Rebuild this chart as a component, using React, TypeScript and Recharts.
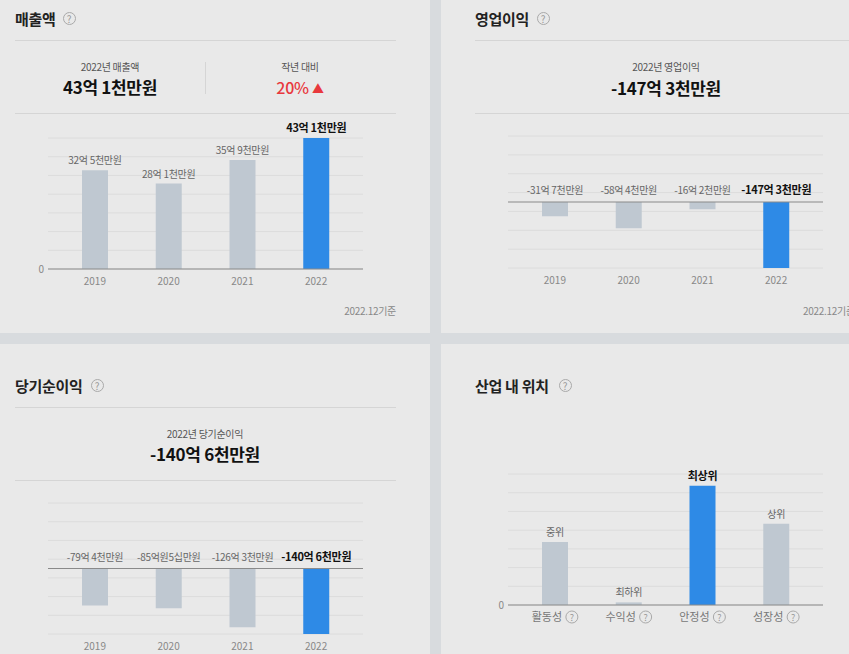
import React from "react"
import { Bar, BarChart, XAxis, YAxis, CartesianGrid, Cell, LabelList, ReferenceLine } from "recharts"

const FONT = '"Noto Sans CJK KR", "Noto Sans", sans-serif'

// 매출액 (억원)
const years = ["2019", "2020", "2021", "2022"]
const revenue = [32.5, 28.1, 35.9, 43.1]
const revenueLabels = ["32억 5천만원", "28억 1천만원", "35억 9천만원", "43억 1천만원"]

// 영업이익 (억원)
const opIncome = [-31.7, -58.4, -16.2, -147.3]
const opIncomeLabels = ["-31억 7천만원", "-58억 4천만원", "-16억 2천만원", "-147억 3천만원"]

// 당기순이익 (억원)
const netIncome = [-79.4, -85.5, -126.3, -140.6]
const netIncomeLabels = ["-79억 4천만원", "-85억원5십만원", "-126억 3천만원", "-140억 6천만원"]

// 산업 내 위치
const positionCats = ["활동성", "수익성", "안정성", "성장성"]
const positionValues = [48, 2, 91, 62]
const positionLabels = ["중위", "최하위", "최상위", "상위"]

const GRAY = "#bfc8d1"
const BLUE = "#2e8ae6"

type Row = { name: string; value: number; label: string }

const makeRows = (cats: string[], vals: number[], labels: string[]): Row[] =>
  cats.map((c, i) => ({ name: c, value: vals[i], label: labels[i] }))

const gridTicks = (lo: number, hi: number) => Array.from({ length: 8 }, (_, i) => lo + ((hi - lo) * i) / 7)

function Help({ x, y, r = 6.5 }: { x: number; y: number; r?: number }) {
  return (
    <div
      style={{
        position: "absolute",
        left: x - r,
        top: y - r,
        width: r * 2 - 2,
        height: r * 2 - 2,
        border: "1px solid #a9a9a9",
        borderRadius: "50%",
        color: "#999",
        fontSize: 10,
        lineHeight: `${r * 2 - 2}px`,
        textAlign: "center",
        fontFamily: FONT,
      }}
    >
      ?
    </div>
  )
}

function Txt(props: {
  x: number
  y: number
  size: number
  color?: string
  weight?: number
  align?: "left" | "center" | "right"
  children: React.ReactNode
}) {
  const { x, y, size, color = "#222", weight = 400, align = "left", children } = props
  const lh = size + 6
  const w = 300
  const left = align === "left" ? x : align === "center" ? x - w / 2 : x - w
  return (
    <div
      style={{
        position: "absolute",
        left,
        top: y - lh / 2,
        width: w,
        lineHeight: `${lh}px`,
        fontSize: size,
        fontWeight: weight,
        color,
        textAlign: align,
        whiteSpace: "nowrap",
        fontFamily: FONT,
        letterSpacing: -0.3,
      }}
    >
      {children}
    </div>
  )
}

function Line({ x, y, w, h }: { x: number; y: number; w: number; h: number }) {
  return <div style={{ position: "absolute", left: x, top: y, width: w, height: h, background: "#d5d5d5" }} />
}

function BarLabel(props: any) {
  const { x, y, width, height, value, index, hi, raw } = props
  const top = Math.min(y, y + height)
  const neg = (raw ?? 0) < 0
  const bold = index === hi
  return (
    <text
      x={x + width / 2}
      y={top - (neg ? 8 : 6)}
      textAnchor="middle"
      fontSize={bold ? 11 : 10}
      fontWeight={bold ? 700 : 400}
      fill={bold ? "#111" : "#666"}
      fontFamily={FONT}
      letterSpacing={-0.3}
    >
      {value}
    </text>
  )
}

function HelpTick(props: any) {
  const { x, y, payload } = props
  return (
    <g>
      <text x={x - 8} y={y + 11} textAnchor="middle" fontSize={11} fill="#777" fontFamily={FONT}>
        {payload.value}
      </text>
      <circle cx={x + 17} cy={y + 7} r={6} fill="none" stroke="#a9a9a9" />
      <text x={x + 17} y={y + 10.5} textAnchor="middle" fontSize={9} fill="#999" fontFamily={FONT}>
        ?
      </text>
    </g>
  )
}

function PanelChart(props: {
  x0: number
  x1: number
  y0: number
  y1: number
  rows: Row[]
  domain: [number, number]
  hi: number
  helpTicks?: boolean
}) {
  const { x0, x1, y0, y1, rows, domain, hi, helpTicks } = props
  const width = x1 - x0 + 75
  const height = y1 - y0 + 53
  const zeroAtBottom = domain[0] === 0
  return (
    <div style={{ position: "absolute", left: x0 - 48, top: y0 - 28 }}>
      <BarChart
        width={width}
        height={height}
        data={rows}
        margin={{ top: 28, left: 28, right: 27, bottom: 5 }}
      >
        <CartesianGrid vertical={false} stroke="#dcdcdc" />
        <YAxis
          width={20}
          type="number"
          domain={domain}
          ticks={gridTicks(domain[0], domain[1])}
          allowDataOverflow
          axisLine={false}
          tickLine={false}
          tickSize={0}
          tickMargin={4}
          tick={{ fontSize: 10, fill: "#888", fontFamily: FONT }}
          tickFormatter={(v: number) => (Math.abs(v) < 1e-9 ? "0" : "")}
          interval={0}
        />
        <XAxis
          dataKey="name"
          height={20}
          axisLine={zeroAtBottom ? { stroke: "#8a8a8a", strokeWidth: 1.2 } : false}
          tickLine={false}
          tickSize={0}
          tickMargin={helpTicks ? 5 : 9}
          padding={{ left: 10, right: 10 }}
          interval={0}
          tick={helpTicks ? <HelpTick /> : { fontSize: 10, fill: "#888", fontFamily: FONT }}
        />
        <Bar dataKey="value" barSize={26} isAnimationActive={false}>
          {rows.map((r, i) => (
            <Cell key={r.name} fill={i === hi ? BLUE : GRAY} />
          ))}
          <LabelList dataKey="label" content={(p: any) => <BarLabel {...p} hi={hi} raw={rows[p.index]?.value} />} />
        </Bar>
        {!zeroAtBottom && <ReferenceLine y={0} stroke="#8a8a8a" strokeWidth={1.2} />}
      </BarChart>
    </div>
  )
}

export default function App() {
  const revRows = makeRows(years, revenue, revenueLabels)
  const opRows = makeRows(years, opIncome, opIncomeLabels)
  const netRows = makeRows(years, netIncome, netIncomeLabels)
  const posRows = makeRows(positionCats, positionValues, positionLabels)

  return (
    <div
      style={{
        position: "absolute",
        left: 0,
        top: 0,
        width: 849,
        height: 654,
        background: "#e9e9e9",
        overflow: "hidden",
        fontFamily: FONT,
      }}
    >
      {/* separators */}
      <div style={{ position: "absolute", left: 430, top: 0, width: 11, height: 654, background: "#d8dbde" }} />
      <div style={{ position: "absolute", left: 0, top: 333, width: 849, height: 11, background: "#d8dbde" }} />

      {/* 매출액 */}
      <Txt x={15} y={18} size={15} weight={700}>매출액</Txt>
      <Help x={69} y={18} />
      <Line x={15} y={40} w={381} h={1} />
      <Txt x={110} y={67} size={10} color="#555" align="center">2022년 매출액</Txt>
      <Txt x={110} y={86} size={17} weight={700} color="#111" align="center">43억 1천만원</Txt>
      <Line x={205} y={62} w={1} h={32} />
      <Txt x={300} y={67} size={10} color="#555" align="center">작년 대비</Txt>
      <Txt x={300} y={87} size={16} weight={500} color="#e8383d" align="center">
        20% <span style={{ fontSize: 12 }}>▲</span>
      </Txt>
      <Line x={15} y={113} w={381} h={1} />
      <PanelChart x0={48} x1={363} y0={138} y1={269} rows={revRows} domain={[0, 43.1]} hi={3} />
      <Txt x={396} y={311} size={10} color="#888" align="right">2022.12기준</Txt>

      {/* 영업이익 */}
      <Txt x={475} y={18} size={15} weight={700}>영업이익</Txt>
      <Help x={543} y={18} />
      <Line x={475} y={40} w={374} h={1} />
      <Txt x={666} y={67} size={10} color="#555" align="center">2022년 영업이익</Txt>
      <Txt x={666} y={87} size={17} weight={700} color="#111" align="center">-147억 3천만원</Txt>
      <Line x={475} y={113} w={374} h={1} />
      <PanelChart x0={508} x1={823} y0={136} y1={268} rows={opRows} domain={[-147.3, 147.3]} hi={3} />
      <Txt x={803} y={311} size={10} color="#888">2022.12기준</Txt>

      {/* 당기순이익 */}
      <Txt x={15} y={385} size={15} weight={700}>당기순이익</Txt>
      <Help x={97} y={385} />
      <Line x={15} y={407} w={381} h={1} />
      <Txt x={205} y={434} size={10} color="#555" align="center">2022년 당기순이익</Txt>
      <Txt x={205} y={453} size={17} weight={700} color="#111" align="center">-140억 6천만원</Txt>
      <Line x={15} y={480} w={381} h={1} />
      <PanelChart x0={48} x1={363} y0={503} y1={634} rows={netRows} domain={[-140.6, 140.6]} hi={3} />

      {/* 산업 내 위치 */}
      <Txt x={475} y={385} size={15} weight={700}>산업 내 위치</Txt>
      <Help x={565} y={385} />
      <PanelChart x0={508} x1={823} y0={474} y1={605} rows={posRows} domain={[0, 100]} hi={2} helpTicks />
    </div>
  )
}
